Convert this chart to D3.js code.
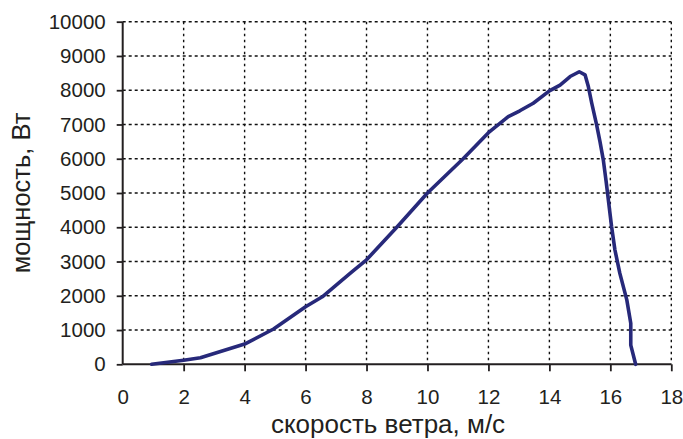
<!DOCTYPE html>
<html>
<head>
<meta charset="utf-8">
<script src="https://cdn.jsdelivr.net/npm/d3@7"></script>
<style>
  html, body { margin: 0; padding: 0; background: #fff; }
  svg { display: block; }
  text { font-family: "Liberation Sans", Arial, Helvetica, sans-serif; fill: #231f20; }
</style>
</head>
<body>
<svg id="chart" width="683" height="439"></svg>
<script>
// wind speed, m/s
const windSpeed = [0.95, 2.0, 2.55, 4.0, 4.95, 6.0, 6.55, 7.15, 7.5, 8.0, 9.0, 10.0, 11.17, 12.0, 12.65, 13.03, 13.47, 14.0, 14.35, 14.68, 14.98, 15.17, 15.28, 15.39, 15.55, 15.66, 15.77, 15.86, 16.04, 16.15, 16.31, 16.54, 16.67, 16.67, 16.83];
// power, W
const power = [0, 120, 190, 590, 1030, 1680, 1970, 2420, 2680, 3050, 4010, 5000, 6000, 6760, 7230, 7400, 7620, 7980, 8150, 8400, 8540, 8450, 8100, 7620, 6990, 6500, 5960, 5350, 4020, 3340, 2660, 1880, 1200, 560, 0];

const xTicks = [0, 2, 4, 6, 8, 10, 12, 14, 16, 18];
const yTicks = [0, 1000, 2000, 3000, 4000, 5000, 6000, 7000, 8000, 9000, 10000];
const xTitle = "скорость ветра, м/с";
const yTitle = "мощность, Вт";

const svg = d3.select("#chart");
const L = 122.7, R = 671.3, T = 21.7, B = 364.3;

const x = d3.scaleLinear().domain([0, 18]).range([L, R]);
const y = d3.scaleLinear().domain([0, 10000]).range([B, T]);

// grid
const grid = svg.append("g");
grid.selectAll("line.v").data(xTicks.filter(d => d > 0)).join("line")
  .attr("x1", d => x(d)).attr("x2", d => x(d))
  .attr("y1", T).attr("y2", B)
  .attr("stroke", "#111").attr("stroke-width", 1.4).attr("stroke-dasharray", "2.5,3.5");
grid.selectAll("line.h").data(yTicks.filter(d => d > 0)).join("line")
  .attr("x1", L).attr("x2", R)
  .attr("y1", d => y(d)).attr("y2", d => y(d))
  .attr("stroke", "#111").attr("stroke-width", 1.4).attr("stroke-dasharray", "3,3");

// axes
const yAxis = svg.append("g").attr("transform", `translate(${L},0)`)
  .call(d3.axisLeft(y).tickValues(yTicks).tickSize(6).tickPadding(11).tickFormat(d3.format("d")));
const xAxis = svg.append("g").attr("transform", `translate(0,${B})`)
  .call(d3.axisBottom(x).tickValues(xTicks).tickSize(7).tickPadding(18).tickFormat(d3.format("d")));
[yAxis, xAxis].forEach(g => {
  g.select(".domain").remove();
  g.selectAll(".tick line").attr("stroke", "#231f20").attr("stroke-width", 1.8);
  g.selectAll(".tick text").attr("font-size", 20.5).attr("fill", "#231f20")
    .attr("font-family", '"Liberation Sans", Arial, sans-serif');
});
xAxis.selectAll(".tick").filter(d => d === 0).select("line").remove();
svg.append("line").attr("x1", L).attr("x2", L).attr("y1", T).attr("y2", B)
  .attr("stroke", "#231f20").attr("stroke-width", 2);
svg.append("line").attr("x1", L).attr("x2", R).attr("y1", B).attr("y2", B)
  .attr("stroke", "#231f20").attr("stroke-width", 2);

// curve
const pts = windSpeed.map((w, i) => [w, power[i]]);
svg.append("path").datum(pts)
  .attr("d", d3.line().x(d => x(d[0])).y(d => y(d[1])))
  .attr("fill", "none").attr("stroke", "#27297a").attr("stroke-width", 3.6)
  .attr("stroke-linejoin", "round").attr("stroke-linecap", "round");

// titles
svg.append("text").attr("x", 388).attr("y", 433).attr("text-anchor", "middle")
  .attr("font-size", 26).text(xTitle);
svg.append("text").attr("transform", `translate(29.5,${(T + B) / 2}) rotate(-90)`)
  .attr("text-anchor", "middle").attr("font-size", 25.5).text(yTitle);
</script>
</body>
</html>
